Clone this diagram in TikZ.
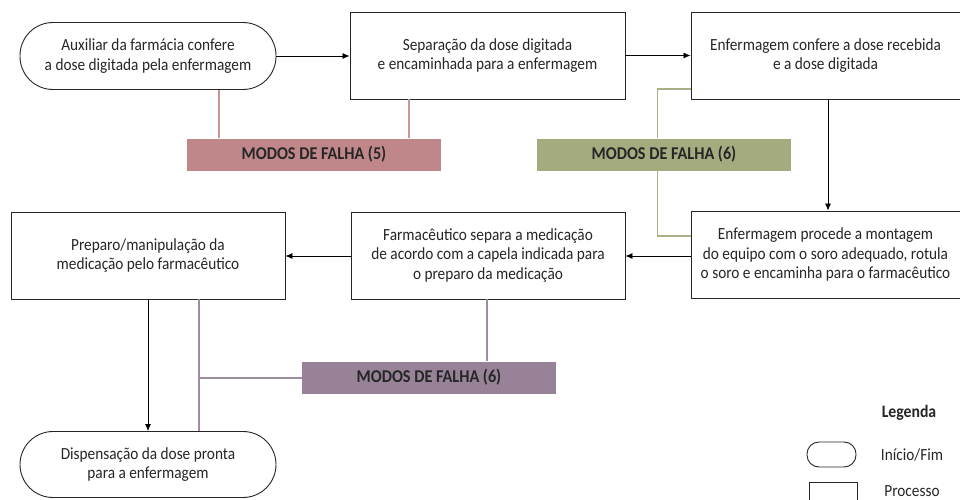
\documentclass[tikz,border=0pt]{standalone}
\usepackage{fontspec}
\setmainfont[FakeStretch=0.9]{Carlito}
\usetikzlibrary{arrows.meta}
\begin{document}
\begin{tikzpicture}[x=1pt,y=-1pt,
  every node/.style={font=\fontsize{17}{19.5}\selectfont, text=black!85, align=center, inner sep=0pt},
  procbox/.style={draw=black!85, line width=0.9pt, minimum width=#1, minimum height=87pt},
  endbox/.style={draw=black!85, line width=0.9pt, rounded corners=33pt, minimum width=256pt, minimum height=67pt},
  failbox/.style={fill=#1, minimum width=254pt, minimum height=32pt, font=\fontsize{18}{20}\bfseries},
  arr/.style={draw=black, line width=0.8pt, -{Latex[length=7pt,width=6pt]}},
  link/.style={draw=#1, line width=1.6pt},
]
\definecolor{rosa}{HTML}{BF8789}
\definecolor{oliva}{HTML}{A4AB7F}
\definecolor{malva}{HTML}{978297}
\definecolor{rosaL}{HTML}{C99596}
\definecolor{olivaL}{HTML}{A9AF86}
\definecolor{malvaL}{HTML}{A08CA0}
\useasboundingbox (0,0) rectangle (960,500);
\fill[white] (0,0) rectangle (960,500);

% process steps
\node[endbox] (n1) at (148,56) {Auxiliar da farmácia confere\\a dose digitada pela enfermagem};
\node[procbox=275pt] (n2) at (487.5,55.5) {Separação da dose digitada\\e encaminhada para a enfermagem};
\node[procbox=269pt] (n3) at (825.5,55.5) {Enfermagem confere a dose recebida\\e a dose digitada};
\node[procbox=269pt] (n4) at (825.5,254.5) {Enfermagem procede a montagem\\do equipo com o soro adequado, rotula\\o soro e encaminha para o farmacêutico};
\node[procbox=274pt] (n5) at (488,255.5) {Farmacêutico separa a medicação\\de acordo com a capela indicada para\\o preparo da medicação};
\node[procbox=274pt] (n6) at (148,255.5) {Preparo/manipulação da\\medicação pelo farmacêutico};
\node[endbox, minimum height=66pt] (n7) at (148,464.5) {Dispensação da dose pronta\\para a enfermagem};

% failure modes
\node[failbox=rosa] (f1) at (314,154.5) {MODOS DE FALHA (5)};
\node[failbox=oliva] (f2) at (664,154.5) {MODOS DE FALHA (6)};
\node[failbox=malva] (f3) at (429,377.5) {MODOS DE FALHA (6)};

% guide coordinates for the links
\coordinate (xa) at (219,0);
\coordinate (xb) at (409,0);
\coordinate (xc) at (657.5,89);
\coordinate (xd) at (657.5,236);
\coordinate (xe) at (828,0);
\coordinate (xf) at (487,0);
\coordinate (xg) at (199,378);
\coordinate (yh) at (0,256);

% flow arrows
\draw[arr] (n1.east) -- (n1.east -| n2.west);
\draw[arr] (n2.east) -- (n2.east -| n3.west);
\draw[arr] (n3.south -| xe) -- (n4.north -| xe);
\draw[arr] (n4.west |- yh) -- (n5.east |- yh);
\draw[arr] (n5.west |- yh) -- (n6.east |- yh);
\draw[arr] (n6.south) -- (n7.north);

% links to the failure modes
\draw[link=rosaL] (n1.south -| xa) -- (f1.north -| xa);
\draw[link=rosaL] (n2.south -| xb) -- (f1.north -| xb);
\draw[link=olivaL] (n3.west |- xc) -- (xc) -- (f2.north -| xc);
\draw[link=olivaL] (f2.south -| xd) -- (xd) -- (n4.west |- xd);
\draw[link=malvaL] (n5.south -| xf) -- (f3.north -| xf);
\draw[link=malvaL] (f3.west |- xg) -- (xg);
\draw[link=malvaL] (n6.south -| xg) -- (n7.north -| xg);

% legend
\node[font=\fontsize{17.5}{20}\bfseries] (lg) at (909,413) {Legenda};
\node[draw=black!85, line width=0.9pt, rounded corners=12pt, minimum width=49pt, minimum height=25pt] (lse) at (831.5,454.5) {};
\node (lset) at (912,455) {Início/Fim};
\node[draw=black!85, line width=0.9pt, minimum width=48pt, minimum height=28pt] (lpr) at (833,496) {};
\node (lprt) at (912,491.5) {Processo};
\end{tikzpicture}
\end{document}
